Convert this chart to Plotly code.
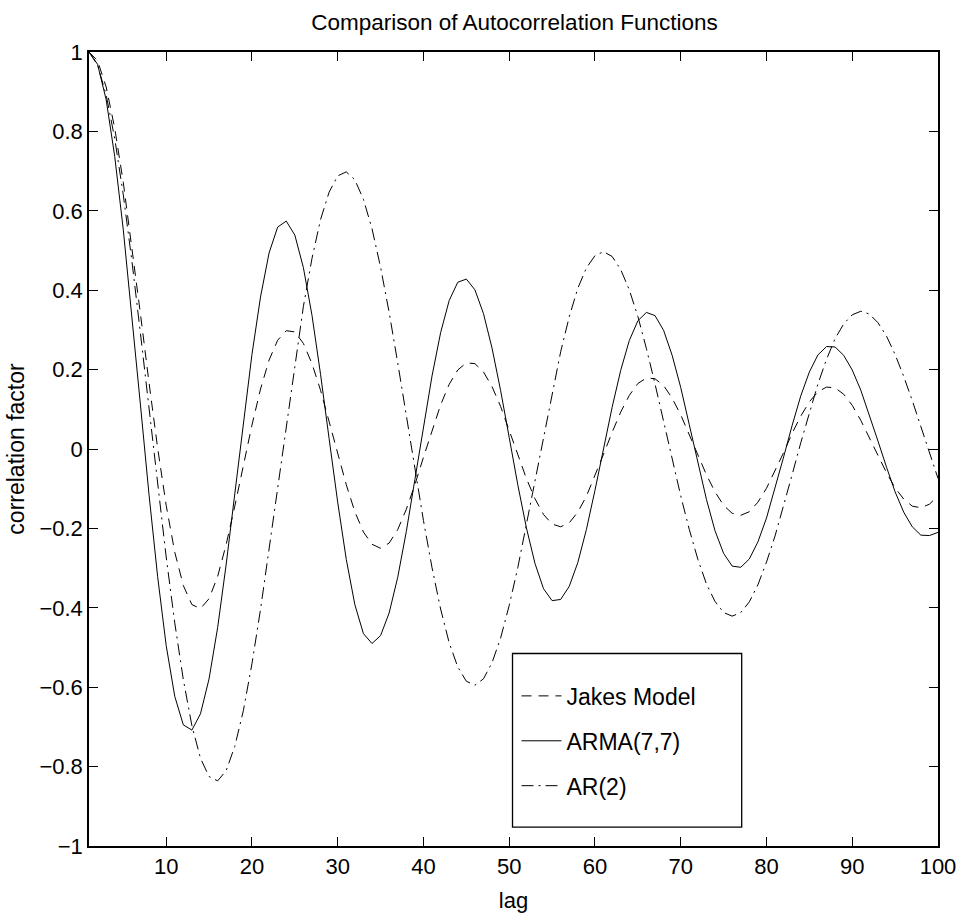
import plotly.graph_objects as go

# Lags 1..100
lags = list(range(1, 101))

jakes = [1.000, 0.978, 0.912, 0.808, 0.671, 0.512, 0.340, 0.167, 0.003, -0.142,
         -0.260, -0.344, -0.392, -0.402, -0.377, -0.321, -0.240, -0.144, -0.041, 0.060,
         0.151, 0.224, 0.274, 0.298, 0.295, 0.266, 0.215, 0.148, 0.069, -0.013,
         -0.090, -0.158, -0.209, -0.240, -0.250, -0.237, -0.203, -0.152, -0.090, -0.021,
         0.048, 0.111, 0.163, 0.199, 0.217, 0.215, 0.194, 0.157, 0.107, 0.048,
         -0.014, -0.074, -0.125, -0.165, -0.189, -0.196, -0.186, -0.159, -0.119, -0.068,
         -0.013, 0.042, 0.093, 0.135, 0.165, 0.179, 0.177, 0.160, 0.128, 0.086,
         0.037, -0.015, -0.065, -0.108, -0.142, -0.162, -0.167, -0.158, -0.134, -0.099,
         -0.056, -0.009, 0.040, 0.083, 0.119, 0.144, 0.156, 0.154, 0.138, 0.110,
         0.072, 0.029, -0.016, -0.060, -0.098, -0.126, -0.144, -0.148, -0.139, -0.118]

arma77 = [1.000, 0.969, 0.880, 0.737, 0.552, 0.339, 0.111, -0.115, -0.321, -0.495,
          -0.623, -0.695, -0.708, -0.667, -0.579, -0.450, -0.290, -0.113, 0.068, 0.238,
          0.383, 0.494, 0.559, 0.574, 0.539, 0.457, 0.337, 0.188, 0.026, -0.134,
          -0.278, -0.392, -0.465, -0.490, -0.470, -0.413, -0.323, -0.208, -0.077, 0.057,
          0.184, 0.293, 0.374, 0.420, 0.428, 0.401, 0.341, 0.254, 0.147, 0.029,
          -0.090, -0.198, -0.288, -0.352, -0.382, -0.379, -0.346, -0.286, -0.203, -0.104,
          0.001, 0.105, 0.198, 0.273, 0.323, 0.344, 0.336, 0.299, 0.236, 0.155,
          0.061, -0.036, -0.127, -0.206, -0.263, -0.295, -0.298, -0.277, -0.234, -0.174,
          -0.100, -0.020, 0.060, 0.134, 0.194, 0.237, 0.258, 0.257, 0.236, 0.199,
          0.148, 0.086, 0.020, -0.046, -0.108, -0.159, -0.196, -0.217, -0.218, -0.210]

ar2 = [1.000, 0.967, 0.892, 0.782, 0.640, 0.474, 0.291, 0.101, -0.090, -0.272,
       -0.438, -0.581, -0.697, -0.779, -0.825, -0.836, -0.810, -0.749, -0.659, -0.541,
       -0.404, -0.251, -0.093, 0.066, 0.218, 0.359, 0.480, 0.578, 0.647, 0.688,
       0.698, 0.678, 0.629, 0.555, 0.458, 0.344, 0.217, 0.085, -0.050, -0.180,
       -0.299, -0.403, -0.488, -0.549, -0.585, -0.595, -0.579, -0.538, -0.476, -0.394,
       -0.299, -0.190, -0.078, 0.035, 0.144, 0.245, 0.333, 0.405, 0.456, 0.487,
       0.497, 0.485, 0.452, 0.401, 0.334, 0.253, 0.164, 0.070, -0.025, -0.118,
       -0.203, -0.278, -0.340, -0.384, -0.412, -0.421, -0.412, -0.385, -0.342, -0.285,
       -0.219, -0.143, -0.064, 0.016, 0.093, 0.164, 0.226, 0.278, 0.315, 0.338,
       0.347, 0.340, 0.318, 0.284, 0.238, 0.183, 0.122, 0.056, -0.010, -0.074]

x_ticks = [10, 20, 30, 40, 50, 60, 70, 80, 90, 100]
y_ticks = [-1, -0.8, -0.6, -0.4, -0.2, 0, 0.2, 0.4, 0.6, 0.8, 1]

FONT = "Liberation Sans, Arial, Helvetica, sans-serif"

fig = go.Figure()
fig.add_trace(go.Scatter(x=lags, y=jakes, mode="lines", name="Jakes Model",
                         legendgroup="a", line=dict(color="black", width=1, dash="10px,7px")))
fig.add_trace(go.Scatter(x=lags, y=arma77, mode="lines", name="ARMA(7,7)",
                         legendgroup="b", line=dict(color="black", width=1)))
fig.add_trace(go.Scatter(x=lags, y=ar2, mode="lines", name="AR(2)",
                         legendgroup="c", line=dict(color="black", width=1, dash="12px,5px,2px,5px")))

W, H = 968, 921
L, R, T, B = 89, 27, 52, 73
pw, ph = W - L - R, H - T - B

def px2paper_x(px):
    return (px - L) / pw

def px2paper_y(py):
    return (H - B - py) / ph

fig.add_shape(type="rect", xref="paper", yref="paper",
              x0=px2paper_x(514), x1=px2paper_x(744), y0=px2paper_y(829), y1=px2paper_y(655),
              line=dict(color="black", width=1.3), fillcolor="white", layer="below")

axis_common = dict(showgrid=False, zeroline=False, showline=True, linecolor="black",
                   linewidth=1.5, mirror="ticks", ticks="inside", ticklen=9,
                   tickcolor="black", tickwidth=1,
                   tickfont=dict(family=FONT, size=22, color="black"))

fig.update_layout(
    width=W, height=H,
    margin=dict(l=L, r=R, t=T, b=B),
    paper_bgcolor="white", plot_bgcolor="white",
    font=dict(family=FONT, size=22, color="black"),
    title=dict(text="Comparison of Autocorrelation Functions", x=px2paper_x(516), xref="paper",
               xanchor="center", y=1 - 22 / H, yref="container", yanchor="middle",
               font=dict(family=FONT, size=22.5, color="black")),
    xaxis=dict(range=[1, 100], tickvals=x_ticks, ticktext=[str(v) for v in x_ticks],
               title=dict(text="lag", font=dict(family=FONT, size=22), standoff=14),
               **axis_common),
    yaxis=dict(range=[-1, 1], tickvals=y_ticks,
               ticktext=[("\u2212" + f"{abs(v):g}") if v < 0 else f"{v:g}" for v in y_ticks],
               title=dict(text="correlation factor", font=dict(family=FONT, size=23), standoff=8),
               **axis_common),
    showlegend=True,
    legend=dict(x=px2paper_x(518), y=px2paper_y(676), xanchor="left", yanchor="top",
                bgcolor="rgba(0,0,0,0)", borderwidth=0, tracegroupgap=12,
                traceorder="grouped", itemwidth=40,
                font=dict(family=FONT, size=23, color="black")),
)

fig.write_html("out.html")
